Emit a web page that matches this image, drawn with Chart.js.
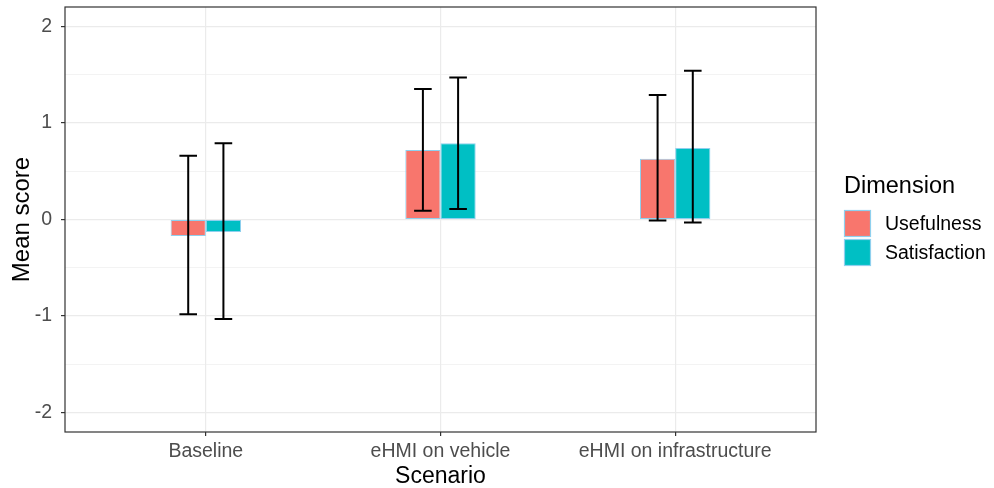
<!DOCTYPE html>
<html>
<head>
<meta charset="utf-8">
<script src="https://cdn.jsdelivr.net/npm/chart.js@4.4.1/dist/chart.umd.min.js"></script>
<style>
  html, body { margin: 0; padding: 0; background: #fff; }
  #wrap { width: 994px; height: 488px; }
</style>
</head>
<body>
<div id="wrap"><canvas id="myChart" width="994" height="488"></canvas></div>
<script>
// Data
const scenarios = ['Baseline', 'eHMI on vehicle', 'eHMI on infrastructure'];
const dimensions = ['Usefulness', 'Satisfaction'];
const usefulnessMean = [-0.17, 0.72, 0.63];
const usefulnessLow = [-0.98, 0.09, -0.01];
const usefulnessHigh = [0.66, 1.35, 1.29];
const satisfactionMean = [-0.13, 0.79, 0.74];
const satisfactionLow = [-1.03, 0.11, -0.03];
const satisfactionHigh = [0.79, 1.47, 1.54];
const yTicks = [-2, -1, 0, 1, 2];

const usefulColor = '#F8766D';
const satisColor = '#00BFC4';
const barBorder = '#8fd0ee';
const fontFam = '"Liberation Sans", Arial, sans-serif';

const errLow = [usefulnessLow, satisfactionLow];
const errHigh = [usefulnessHigh, satisfactionHigh];

// error bars, panel border, axis titles and legend
const extras = {
  id: 'extras',
  afterDatasetsDraw: (chart) => {
    const ctx = chart.ctx;
    const ys = chart.scales.y;
    ctx.save();
    ctx.strokeStyle = '#000';
    ctx.lineWidth = 2;
    chart.data.datasets.forEach((ds, i) => {
      const meta = chart.getDatasetMeta(i);
      meta.data.forEach((bar, j) => {
        const x = bar.x;
        const half = bar.width / 4;
        const yl = ys.getPixelForValue(errLow[i][j]);
        const yh = ys.getPixelForValue(errHigh[i][j]);
        ctx.beginPath();
        ctx.moveTo(x, yl); ctx.lineTo(x, yh);
        ctx.moveTo(x - half, yl); ctx.lineTo(x + half, yl);
        ctx.moveTo(x - half, yh); ctx.lineTo(x + half, yh);
        ctx.stroke();
      });
    });
    ctx.restore();
  },
  afterDraw: (chart) => {
    const ctx = chart.ctx;
    const a = chart.chartArea;
    ctx.save();
    ctx.strokeStyle = '#333333';
    ctx.lineWidth = 1.2;
    ctx.strokeRect(a.left, a.top, a.right - a.left, a.bottom - a.top);

    ctx.fillStyle = '#000';
    ctx.font = '23px ' + fontFam;
    ctx.textAlign = 'center';
    ctx.textBaseline = 'middle';
    ctx.fillText('Scenario', (a.left + a.right) / 2, 477);
    ctx.save();
    ctx.font = '24px ' + fontFam;
    ctx.translate(22, (a.top + a.bottom) / 2);
    ctx.rotate(-Math.PI / 2);
    ctx.fillText('Mean score', 0, 0);
    ctx.restore();

    // legend
    ctx.textAlign = 'left';
    ctx.font = '23.5px ' + fontFam;
    ctx.fillText('Dimension', 844, 187);
    const cols = [usefulColor, satisColor];
    ctx.font = '19.5px ' + fontFam;
    dimensions.forEach((d, i) => {
      const ky = 210 + i * 29;
      ctx.fillStyle = cols[i];
      ctx.fillRect(844, ky, 27, 27);
      ctx.strokeStyle = barBorder;
      ctx.lineWidth = 1.2;
      ctx.strokeRect(844.5, ky + 0.5, 26, 26);
      ctx.fillStyle = '#000';
      ctx.fillText(d, 885, ky + 15);
    });
    ctx.restore();
  }
};

const ctx = document.getElementById('myChart').getContext('2d');
const chart = new Chart(ctx, {
  type: 'bar',
  data: {
    datasets: [
      {
        label: dimensions[0],
        backgroundColor: usefulColor,
        borderColor: barBorder,
        borderWidth: 1,
        borderSkipped: false,
        data: usefulnessMean.map((v, i) => ({ x: i + 1, y: v })),
      }, {
        label: dimensions[1],
        backgroundColor: satisColor,
        borderColor: barBorder,
        borderWidth: 1,
        borderSkipped: false,
        data: satisfactionMean.map((v, i) => ({ x: i + 1, y: v })),
      }
    ]
  },
  plugins: [extras],
  options: {
    responsive: false,
    animation: false,
    categoryPercentage: 0.3,
    barPercentage: 1,
    layout: { padding: { left: 0, top: 7, right: 178, bottom: 0 } },
    plugins: {
      legend: { display: false },
      tooltip: { enabled: false }
    },
    scales: {
      x: {
        type: 'linear',
        min: 0.4,
        max: 3.6,
        offset: false,
        afterBuildTicks: (s) => { s.ticks = scenarios.map((c, i) => ({ value: i + 1 })); },
        afterFit: (s) => { s.height = 56; s.paddingLeft = 0; s.paddingRight = 0; },
        ticks: {
          callback: (v) => scenarios[v - 1] || '',
          color: '#4d4d4d',
          font: { family: fontFam, size: 19.5 },
          padding: 4,
          maxRotation: 0,
          autoSkip: false
        },
        grid: {
          offset: false,
          color: '#ebebeb',
          lineWidth: 1.2,
          tickColor: '#333333',
          tickLength: 4
        },
        border: { display: false }
      },
      y: {
        min: -2.2,
        max: 2.2,
        afterBuildTicks: (s) => {
          const t = [];
          for (let v = -2; v <= 2.001; v += 0.5) t.push({ value: Math.round(v * 10) / 10 });
          s.ticks = t;
        },
        afterFit: (s) => { s.width = 65; s.paddingTop = 0; s.paddingBottom = 0; },
        ticks: {
          callback: (v) => yTicks.includes(v) ? String(v) : '',
          color: '#4d4d4d',
          font: { family: fontFam, size: 19.5 },
          padding: 9
        },
        grid: {
          color: '#ebebeb',
          lineWidth: (c) => Number.isInteger(c.tick && c.tick.value) ? 1.2 : 0.6,
          tickColor: (c) => Number.isInteger(c.tick && c.tick.value) ? '#333333' : 'rgba(0,0,0,0)',
          tickLength: 4
        },
        border: { display: false }
      }
    }
  }
});
</script>
</body>
</html>
